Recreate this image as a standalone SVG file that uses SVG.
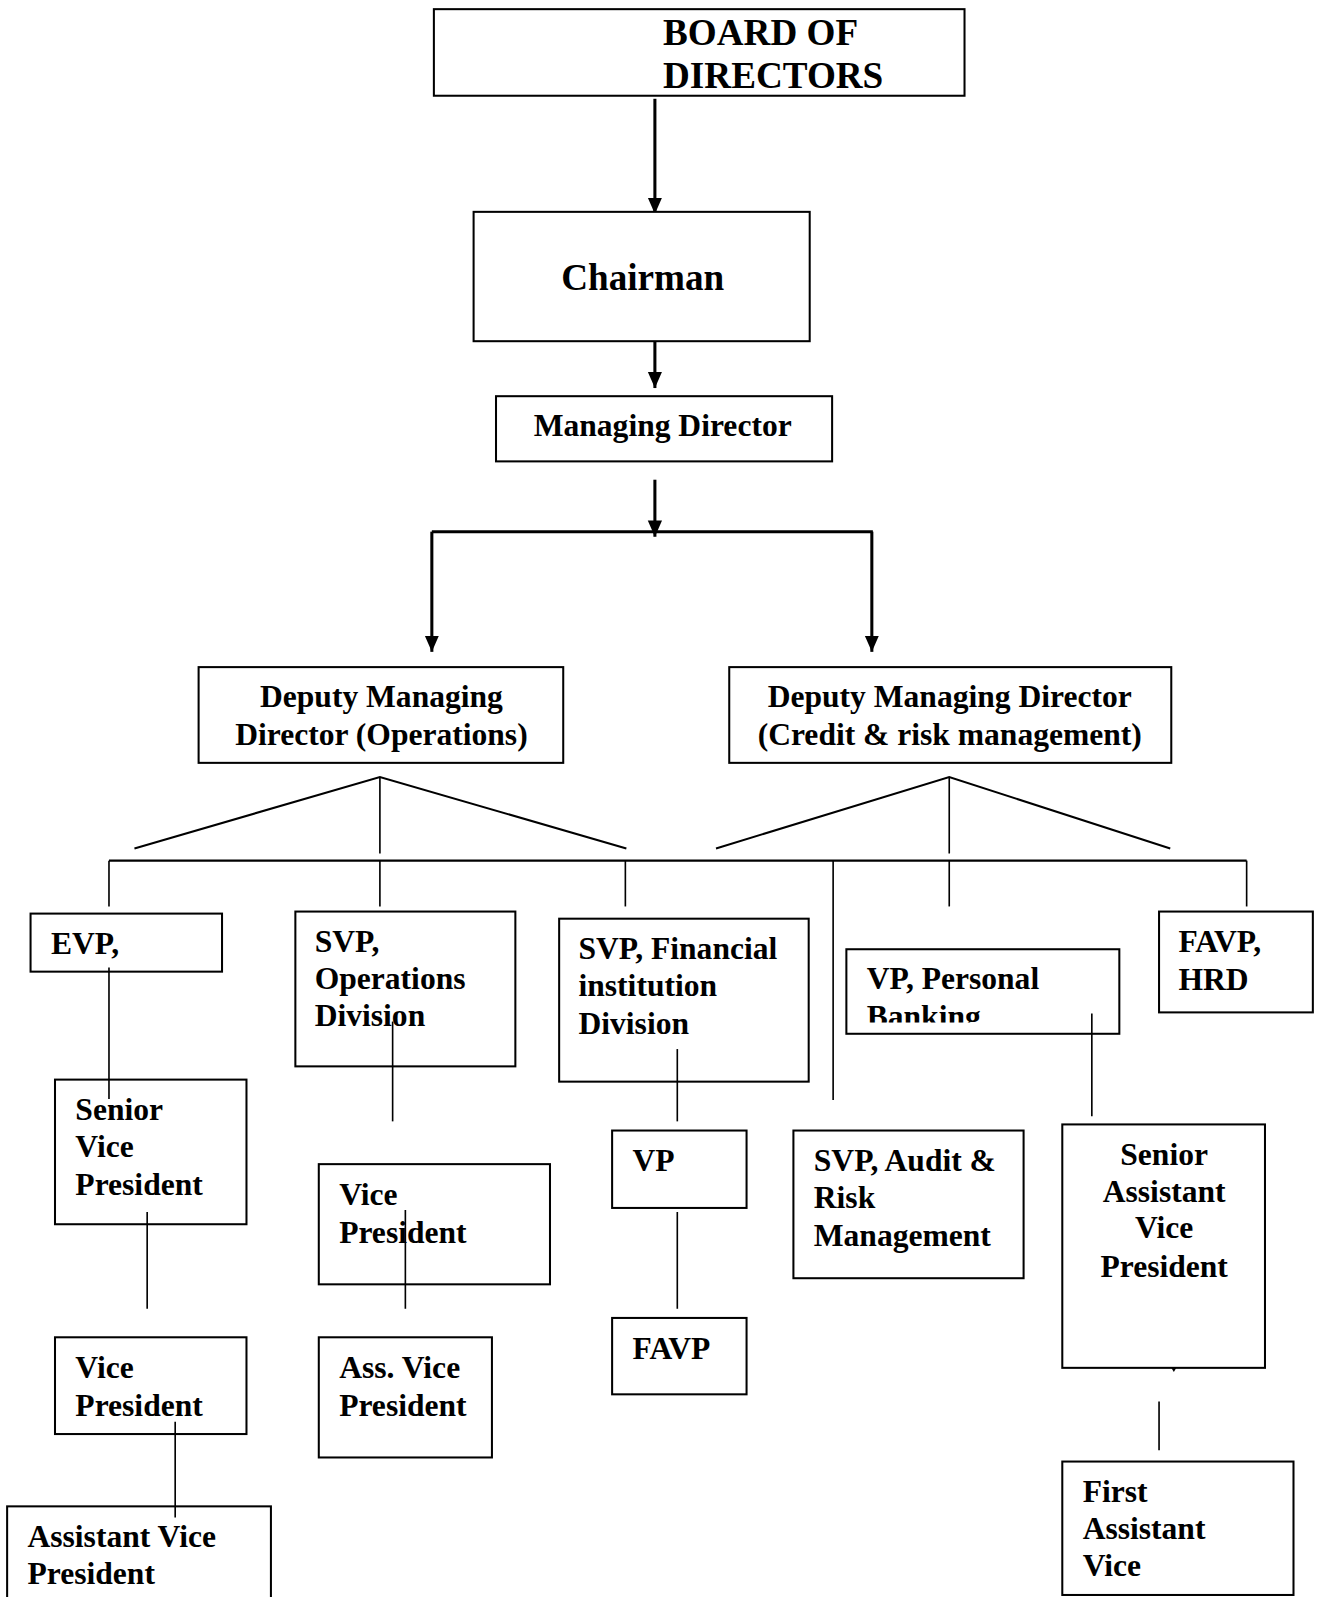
<svg xmlns="http://www.w3.org/2000/svg" width="1319" height="1597" viewBox="0 0 1319 1597">
<style>
.box{fill:#fff;stroke:#000;stroke-width:2}
.t{font-family:"Liberation Serif","Times New Roman",serif;font-weight:bold;font-size:31px;fill:#000}
.big{font-size:36.5px}
.c{text-anchor:middle}
.thick{stroke:#000;stroke-width:3;fill:none}
.thin{stroke:#000;stroke-width:1.6;fill:none}
.mid{stroke:#000;stroke-width:2;fill:none}
</style>
<defs>
<marker id="ah" markerUnits="userSpaceOnUse" markerWidth="16" markerHeight="16" refX="16" refY="7" orient="auto" viewBox="0 0 16 14">
<path d="M0,0 L16,7 L0,14 z" fill="#000"/>
</marker>
<clipPath id="clipBank"><rect x="831" y="932" width="268" height="72"/></clipPath>
</defs>
<rect width="1319" height="1597" fill="#fff"/>
<g transform="scale(1.0185)">
<g id="connectors">
<line class="thick" x1="643" y1="97" x2="643" y2="210" marker-end="url(#ah)"/>
<line class="thick" x1="643" y1="325" x2="643" y2="381" marker-end="url(#ah)"/>
<line class="thick" x1="643" y1="471" x2="643" y2="527" marker-end="url(#ah)"/>
<line class="thick" x1="424" y1="522" x2="857" y2="522"/>
<line class="thick" x1="424" y1="522" x2="424" y2="640" marker-end="url(#ah)"/>
<line class="thick" x1="856" y1="522" x2="856" y2="640" marker-end="url(#ah)"/>
<polyline class="mid" points="132,833 373,763 615,833"/>
<line class="thin" x1="373" y1="763" x2="373" y2="838"/>
<polyline class="mid" points="703,833 932,763 1149,833"/>
<line class="thin" x1="932" y1="763" x2="932" y2="838"/>
<line class="mid" x1="107" y1="845" x2="1224" y2="845"/>
<line class="thin" x1="107" y1="845" x2="107" y2="890"/>
<line class="thin" x1="373" y1="845" x2="373" y2="890"/>
<line class="thin" x1="614" y1="845" x2="614" y2="890"/>
<line class="thin" x1="818" y1="845" x2="818" y2="1080"/>
<line class="thin" x1="932" y1="845" x2="932" y2="890"/>
<line class="thin" x1="1224" y1="845" x2="1224" y2="890"/>
</g>
<g id="board"><rect class="box" x="426" y="9" width="521" height="85"/>
<text class="t big" x="651" y="44">BOARD OF</text><text class="t big" x="651" y="86">DIRECTORS</text></g>
<g id="chairman"><rect class="box" x="465" y="208" width="330" height="127"/>
<text class="t big" x="551" y="285">Chairman</text></g>
<g id="md"><rect class="box" x="487" y="389" width="330" height="64"/>
<text class="t" x="524" y="428">Managing Director</text></g>
<g id="dmd-ops"><rect class="box" x="195" y="655" width="358" height="94"/>
<text class="t c" x="374.5" y="694">Deputy Managing</text><text class="t c" x="374.5" y="731">Director (Operations)</text></g>
<g id="dmd-credit"><rect class="box" x="716" y="655" width="434" height="94"/>
<text class="t c" x="932.5" y="694">Deputy Managing Director</text><text class="t c" x="932.5" y="731">(Credit &amp; risk management)</text></g>
<g id="evp"><rect class="box" x="30" y="897" width="188" height="57"/>
<text class="t" x="50" y="937">EVP,</text></g>
<g id="svp-ops"><rect class="box" x="290" y="895" width="216" height="152"/>
<text class="t" x="309" y="935">SVP,</text><text class="t" x="309" y="971">Operations</text><text class="t" x="309" y="1007">Division</text></g>
<g id="svp-fin"><rect class="box" x="549" y="902" width="245" height="160"/>
<text class="t" x="568" y="942">SVP, Financial</text><text class="t" x="568" y="978">institution</text><text class="t" x="568" y="1015">Division</text></g>
<g id="vp-personal"><rect class="box" x="831" y="932" width="268" height="83"/>
<text class="t" x="851" y="971">VP, Personal</text><text class="t" x="851" y="1008" clip-path="url(#clipBank)">Banking</text></g>
<g id="favp-hrd"><rect class="box" x="1138" y="895" width="151" height="99"/>
<text class="t" x="1157" y="935">FAVP,</text><text class="t" x="1157" y="972">HRD</text></g>
<g id="senior-vp"><rect class="box" x="54" y="1060" width="188" height="142"/>
<text class="t" x="74" y="1100">Senior</text><text class="t" x="74" y="1136">Vice</text><text class="t" x="74" y="1173">President</text></g>
<g id="vp-ops"><rect class="box" x="313" y="1143" width="227" height="118"/>
<text class="t" x="333" y="1183">Vice</text><text class="t" x="333" y="1220">President</text></g>
<g id="vp-fin"><rect class="box" x="601" y="1110" width="132" height="76"/>
<text class="t" x="621" y="1150">VP</text></g>
<g id="svp-audit"><rect class="box" x="779" y="1110" width="226" height="145"/>
<text class="t" x="799" y="1150">SVP, Audit &amp;</text><text class="t" x="799" y="1186">Risk</text><text class="t" x="799" y="1223">Management</text></g>
<g id="savp"><rect class="box" x="1043" y="1104" width="199" height="239"/>
<text class="t c" x="1143" y="1144">Senior</text><text class="t c" x="1143" y="1180">Assistant</text><text class="t c" x="1143" y="1216">Vice</text><text class="t c" x="1143" y="1254">President</text></g>
<g id="vp-row3"><rect class="box" x="54" y="1313" width="188" height="95"/>
<text class="t" x="74" y="1353">Vice</text><text class="t" x="74" y="1390">President</text></g>
<g id="ass-vp"><rect class="box" x="313" y="1313" width="170" height="118"/>
<text class="t" x="333" y="1353">Ass. Vice</text><text class="t" x="333" y="1390">President</text></g>
<g id="favp"><rect class="box" x="601" y="1294" width="132" height="75"/>
<text class="t" x="621" y="1334">FAVP</text></g>
<g id="first-avp"><rect class="box" x="1043" y="1435" width="227" height="131"/>
<text class="t" x="1063" y="1475">First</text><text class="t" x="1063" y="1511">Assistant</text><text class="t" x="1063" y="1547">Vice</text></g>
<g id="avp"><rect class="box" x="7" y="1479" width="259" height="100"/>
<text class="t" x="27" y="1519">Assistant Vice</text><text class="t" x="27" y="1555">President</text></g>
<g id="connectors-lower">
<line class="thin" x1="107" y1="950" x2="107" y2="1079"/>
<line class="thin" x1="385.5" y1="1003" x2="385.5" y2="1101"/>
<line class="thin" x1="665" y1="1030" x2="665" y2="1101"/>
<line class="thin" x1="1072" y1="995" x2="1072" y2="1096"/>
<line class="thin" x1="144.5" y1="1190" x2="144.5" y2="1285"/>
<line class="thin" x1="398" y1="1188" x2="398" y2="1285"/>
<line class="thin" x1="665" y1="1190" x2="665" y2="1285"/>
<line class="thin" x1="1138" y1="1376" x2="1138" y2="1424"/>
<line class="thin" x1="172" y1="1396" x2="172" y2="1490"/>
<path d="M1150,1343 L1155,1343 L1152.5,1347 z" fill="#000"/>
</g>
</g>
</svg>
